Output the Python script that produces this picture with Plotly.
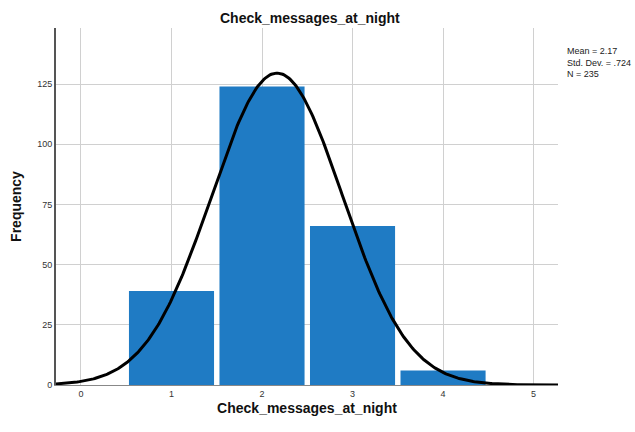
import numpy as np
import plotly.graph_objects as go

# Histogram of the variable
values = [1, 2, 3, 4]
counts = [39, 124, 66, 6]
x_ticks = [0, 1, 2, 3, 4, 5]
y_ticks = [0, 25, 50, 75, 100, 125]

# Summary statistics computed from the counts
n = sum(counts)
mean = sum(v * c for v, c in zip(values, counts)) / n
var = sum(c * (v - mean) ** 2 for v, c in zip(values, counts)) / (n - 1)
sd = var ** 0.5

# Fitted normal curve scaled to frequency (bin width 1)
xs = np.linspace(-0.28, 5.28, 400)
ys = n / (sd * np.sqrt(2 * np.pi)) * np.exp(-0.5 * ((xs - mean) / sd) ** 2)

fig = go.Figure()
fig.add_trace(go.Bar(
    x=values, y=counts, width=0.94,
    marker=dict(color="#1f7bc4", line=dict(width=0)),
    hoverinfo="skip",
))
fig.add_trace(go.Scatter(
    x=xs, y=ys, mode="lines",
    line=dict(color="black", width=3),
    hoverinfo="skip",
))

stats_text = f"Mean = {mean:.2f}<br>Std. Dev. = {sd:.3f}".replace("0.", ".") + f"<br>N = {n}"

fig.update_layout(
    width=635, height=432,
    margin=dict(l=56, r=77, t=28, b=47),
    paper_bgcolor="white", plot_bgcolor="white",
    showlegend=False,
    font=dict(family="Liberation Sans, Arial, sans-serif", color="#222"),
    title=dict(
        text="<b>Check_messages_at_night</b>",
        x=0.488, xanchor="center", y=0.958, yanchor="middle",
        font=dict(size=14, color="#111"),
    ),
    xaxis=dict(
        range=[-0.276, 5.27],
        tickvals=x_ticks, ticktext=[str(t) for t in x_ticks],
        showgrid=True, gridcolor="#d0d0d0", gridwidth=1,
        zeroline=False, showline=True, linecolor="#888", linewidth=1,
        ticks="", tickfont=dict(size=9, color="#333"),
        automargin=False,
        title=dict(text="<b>Check_messages_at_night</b>", font=dict(size=14, color="#111"), standoff=5),
    ),
    yaxis=dict(
        range=[0, 148.3],
        tickvals=y_ticks, ticktext=[str(t) for t in y_ticks],
        showgrid=True, gridcolor="#d0d0d0", gridwidth=1,
        zeroline=False, showline=True, linecolor="#555", linewidth=2,
        ticks="", tickfont=dict(size=9, color="#333"),
        automargin=False,
        title=dict(text="<b>Frequency</b>", font=dict(size=14, color="#111"), standoff=12),
    ),
    annotations=[dict(
        text=stats_text, xref="paper", yref="paper",
        x=1.013, y=0.955, xanchor="left", yanchor="top",
        showarrow=False, align="left",
        font=dict(size=9, color="#222"),
    )],
)

fig.write_html("out.html")
